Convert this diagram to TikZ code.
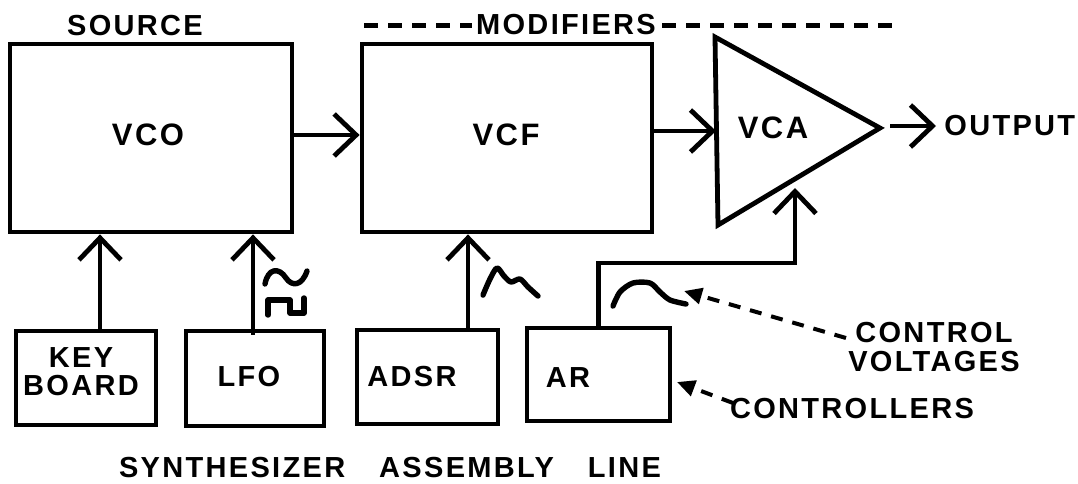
\documentclass[tikz,border=0pt]{standalone}
\usepackage{fontspec}
\setmainfont{Liberation Sans}
\newfontfamily\labfont[LetterSpace=8]{Liberation Sans}
\usetikzlibrary{arrows.meta}
\begin{document}
\begin{tikzpicture}[x=0.5pt,y=-0.5pt,
  box/.style={draw, line width=2.4pt, inner sep=0pt},
  txt/.style={inner sep=0pt, font={\labfont\bfseries\fontsize{14.5pt}{13pt}\selectfont}},
  bigtxt/.style={inner sep=0pt, font={\labfont\bfseries\fontsize{15.5pt}{15pt}\selectfont}},
  twoline/.style={inner sep=0pt, align=center, font={\labfont\bfseries\fontsize{14.5pt}{#1}\selectfont}},
  big/.style={line width=2.4pt, -{Straight Barb[length=11pt,width=21pt]}},
  dasharrow/.style={line width=2pt, dash pattern=on 6pt off 5pt, -{Triangle[length=9pt,width=8pt]}},
  modline/.style={line width=2.5pt, dash pattern=on 7pt off 5pt},
  wave/.style={line width=2.7pt, line cap=round, line join=round}]
\useasboundingbox (0,0) rectangle (1078,483);

% main blocks
\node[box, minimum width=141pt, minimum height=94pt] (vco) at (151,138) {};
\node[bigtxt] (vcot) at (148,135) {VCO};
\node[box, minimum width=145pt, minimum height=94pt] (vcf) at (507,138) {};
\node[bigtxt] (vcft) at (506,135) {VCF};
\coordinate (vtop) at (715,37);
\coordinate (vbot) at (718,225);
\coordinate (vtip) at (880,128);
\draw[line width=2.4pt, line join=miter] (vtop) -- (vtip) -- (vbot) -- cycle;
\node[bigtxt] (vcat) at (773,128) {VCA};

% headings
\node[txt] (src) at (135,26) {SOURCE};
\node[txt] (mod) at (566,25) {MODIFIERS};
\coordinate (modl) at (364,25);
\coordinate (modr) at (902,25);
\draw[modline] (modl) -- ([xshift=-2pt]mod.west);
\draw[modline] ([xshift=3pt]mod.east) -- (modr);

% signal path
\coordinate (y135) at (0,135);
\draw[big] (vco.east |- y135) -- (vcf.west |- y135);
\coordinate (vcain) at (716,131);
\draw[big] (vcf.east |- vcain) -- (vcain);
\coordinate (outs) at (890,126);
\coordinate (oute) at (936,126);
\draw[big] (outs) -- (oute);
\node[txt, anchor=west] (out) at (944,126) {OUTPUT};

% controllers
\node[box, minimum width=70pt, minimum height=47pt] (kb) at (86,378) {};
\node[twoline=14pt] (kbt) at (81,372) {KEY\\BOARD};
\node[box, minimum width=69pt, minimum height=47.5pt] (lfo) at (255,378.5) {};
\node[txt] (lfot) at (249,377) {LFO};
\node[box, minimum width=70.5pt, minimum height=47pt] (adsr) at (427.5,377) {};
\node[txt] (adsrt) at (412,377) {ADSR};
\node[box, minimum width=71.5pt, minimum height=46.5pt] (ar) at (598.5,374.5) {};
\node[txt] (art) at (568,378) {AR};

% control connections
\coordinate (kbo) at ([xshift=7pt]kb.north);
\draw[big] (kbo) -- (kbo |- vco.south);
\coordinate (lfoo) at ([xshift=-1pt,yshift=-3pt]lfo.north);
\draw[big] (lfoo) -- (lfoo |- vco.south);
\coordinate (adsro) at ([xshift=20.25pt]adsr.north);
\draw[big] (adsro) -- (adsro |- vcf.south);
\coordinate (turn) at (795,263);
\coordinate (vcactl) at (795,188);
\draw[big] (ar.north) |- (turn) -- (vcactl);

% waveforms
\draw[wave] (265,284) .. controls (268,268) and (279,267) .. (286,278)
            .. controls (292,287) and (302,286) .. (307,271);
\draw[wave] (268,315) -- (268,300) -- (290,300) -- (290,313) -- (304,313) -- (304,298);
\draw[wave] plot[smooth, tension=0.5] coordinates {(483,295) (490,279) (497,268) (504,276) (511,282) (520,279) (528,287) (538,296)};
\draw[wave] plot[smooth, tension=0.5] coordinates {(613,306) (620,292) (633,283) (650,283) (660,292) (670,300) (686,304)};

% annotations
\node[twoline=14.5pt] (cv) at (934,347) {CONTROL\\VOLTAGES};
\coordinate (cvs) at (846,338);
\coordinate (cvtip) at (684,291);
\draw[dasharrow] (cvs) -- (cvtip);
\node[txt] (ctrl) at (852,409) {CONTROLLERS};
\coordinate (ctrls) at (733,403);
\coordinate (ctrltip) at (677,382);
\draw[dasharrow] (ctrls) -- (ctrltip);

\node[txt] (title) at (390,468) {SYNTHESIZER\hspace{17pt}ASSEMBLY\hspace{17pt}LINE};
\end{tikzpicture}
\end{document}
